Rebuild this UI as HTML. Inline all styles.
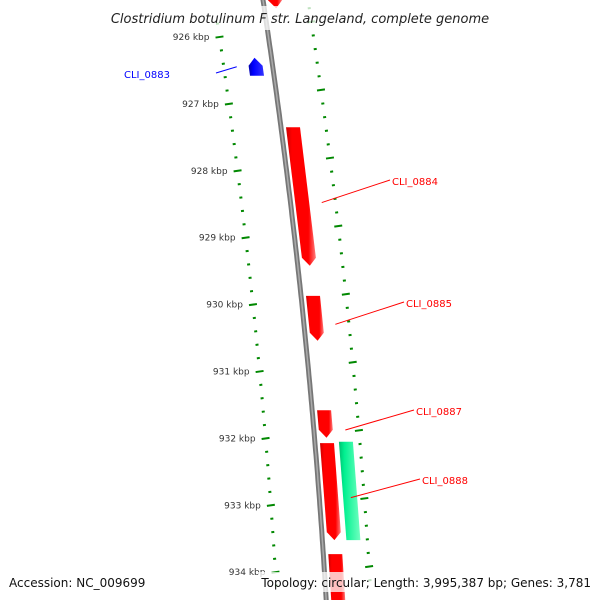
<!DOCTYPE html>
<html><head><meta charset="utf-8"><style>
body{margin:0;background:#fff}
svg{display:block;font-family:"DejaVu Sans","Liberation Sans",sans-serif}
</style></head><body>
<svg id="map" width="600" height="600" viewBox="0 0 600 600" xmlns="http://www.w3.org/2000/svg">
<defs>
<linearGradient id="gBack" x1="0" x2="1" y1="0" y2="0"><stop offset="0" stop-color="#666"/><stop offset="0.5" stop-color="#aaa"/><stop offset="1" stop-color="#555"/></linearGradient>
<linearGradient id="gRed" x1="0" x2="1" y1="0" y2="0"><stop offset="0" stop-color="#c00"/><stop offset="0.2" stop-color="#f00"/><stop offset="0.75" stop-color="#f00"/><stop offset="1" stop-color="#ff8080"/></linearGradient>
<linearGradient id="gBlue" x1="0" x2="1" y1="0" y2="0"><stop offset="0" stop-color="#00a"/><stop offset="0.3" stop-color="#00f"/><stop offset="1" stop-color="#33f"/></linearGradient>
<linearGradient id="gGreen" x1="0" x2="1" y1="0" y2="0"><stop offset="0" stop-color="#00c070"/><stop offset="0.25" stop-color="#00f090"/><stop offset="1" stop-color="#70ffc0"/></linearGradient>
</defs>
<g id="ticks"></g>
<g id="backbone"></g>
<g id="genes"></g>
<g id="labels"></g>
<rect x="95" y="6" width="410" height="24" fill="#fff" opacity="0.75"/>
<text x="300" y="23" text-anchor="middle" font-size="13" font-style="italic" fill="#222">Clostridium botulinum F str. Langeland, complete genome</text>
<rect x="5" y="572" width="150" height="20" fill="#fff" opacity="0.75"/>
<text x="9" y="587" font-size="12" fill="#111">Accession: NC_009699</text>
<rect x="258" y="572" width="338" height="20" fill="#fff" opacity="0.75"/>
<text x="591" y="587" text-anchor="end" font-size="12" fill="#111">Topology: circular; Length: 3,995,387 bp; Genes: 3,781</text>
</svg>
<script>
const tickStart = 925.8;
const tickEnd = 934.2;
const majorKbp = [926, 927, 928, 929, 930, 931, 932, 933, 934];
const majorLabels = ["926 kbp","927 kbp","928 kbp","929 kbp","930 kbp","931 kbp","932 kbp","933 kbp","934 kbp"];
const geneNames = ["", "CLI_0883", "CLI_0884", "CLI_0885", "CLI_0887", "CLI_0888", "", ""];
const geneStart = [925.0, 926.31, 927.35, 929.87, 931.58, 932.07, 932.05, 933.73];
const geneEnd = [925.57, 926.58, 929.42, 930.54, 931.99, 933.52, 933.52, 934.6];
const geneStrand = [1, -1, 1, 1, 1, 1, 0, 1];
const labelX = [0, 124, 392, 406, 416, 422, 0, 0];
const labelY = [0, 78, 185, 307, 415, 484, 0, 0];

const NS="http://www.w3.org/2000/svg";
function yOf(k){return 37+(k-926)*66.9;}
function bx(y){return 263+0.151*y-7.61e-5*y*y;}
function mk(tag,attrs,parent){const e=document.createElementNS(NS,tag);for(const a in attrs)e.setAttribute(a,attrs[a]);parent.appendChild(e);return e;}
const tg=document.getElementById('ticks');
// backbone
const bb=document.getElementById('backbone');
let d="";for(let y=-5;y<=605;y+=5){d+=(y===-5?"M":"L")+bx(y).toFixed(1)+","+y;}
const bl=mk('path',{d:d,stroke:'#777','stroke-width':5,fill:'none'},bb);


const bl2=mk('path',{d:d,stroke:'#aaa','stroke-width':1.5,fill:'none'},bb);


// ticks
for(let i=0;Math.round((tickStart+i*0.2)*10)/10<=tickEnd;i++){
  const k=Math.round((tickStart+i*0.2)*10)/10;
  const isMajor=Math.abs(k-Math.round(k))<1e-6;
  const y=yOf(k);
  const lx=bx(y)-49;
  const w=isMajor?8:3;
  const t=mk('rect',{x:lx-w/2,y:y-1,width:w,height:2,fill:'#080',transform:`rotate(-8 ${lx} ${y})`},tg);
  
  
  const ry=y-14+(y-104)*6/335;
  const rx=bx(ry)+45;
  const t2=mk('rect',{x:rx-w/2,y:ry-1,width:w,height:2,fill:'#080',transform:`rotate(-8 ${rx} ${ry})`},tg);
  
  
}
majorKbp.forEach((k,i)=>{
  const y=yOf(k);
  const t=mk('text',{x:bx(y)-59,y:y+3,'text-anchor':'end','font-size':9,fill:'#333'},tg);
  t.textContent=majorLabels[i];
  
  
});
// genes
const gg=document.getElementById('genes');
geneStart.forEach((s,i)=>{
  const st=geneStrand[i];
  let o1,o2,fill;
  if(st===-1){o1=-24;o2=-10;fill='url(#gBlue)';}
  else if(st===1){o1=5;o2=19;fill='url(#gRed)';}
  else {o1=24;o2=38;fill='url(#gGreen)';}
  const y1=yOf(s),y2=yOf(geneEnd[i]);
  let pts=[];
  const tip=8;
  if(st===1){
    pts=[[bx(y1)+o1,y1],[bx(y1)+o2,y1],[bx(y2-tip)+o2,y2-tip],[bx(y2)+(o1+o2)/2,y2],[bx(y2-tip)+o1,y2-tip]];
  } else if(st===-1){
    pts=[[bx(y1)+(o1+o2)/2,y1],[bx(y1+tip)+o2,y1+tip],[bx(y2)+o2,y2],[bx(y2)+o1,y2],[bx(y1+tip)+o1,y1+tip]];
  } else {
    pts=[[bx(y1)+o1,y1],[bx(y1)+o2,y1],[bx(y2)+o2,y2],[bx(y2)+o1,y2]];
  }
  const p=mk('polygon',{points:pts.map(q=>q[0].toFixed(1)+","+q[1].toFixed(1)).join(" "),fill:fill},gg);
  
  
  if(geneNames[i]){
    const col=st===-1?'#00f':'#f00';
    const ym=(y1+y2)/2;
    const ex=st===-1?bx(ym)-36:bx(ym)+32;
    const lg=document.getElementById('labels');
    const ln=mk('line',{x1:ex,y1:ym+ (st===-1?0:6),x2:st===-1?labelX[i]+92:labelX[i]-2,y2:labelY[i]-5,stroke:col,'stroke-width':1},lg);
    
    
    const tx=mk('text',{x:labelX[i],y:labelY[i],'font-size':10,fill:col},lg);
    tx.textContent=geneNames[i];
    
    
  }
});
</script>
</body></html>
